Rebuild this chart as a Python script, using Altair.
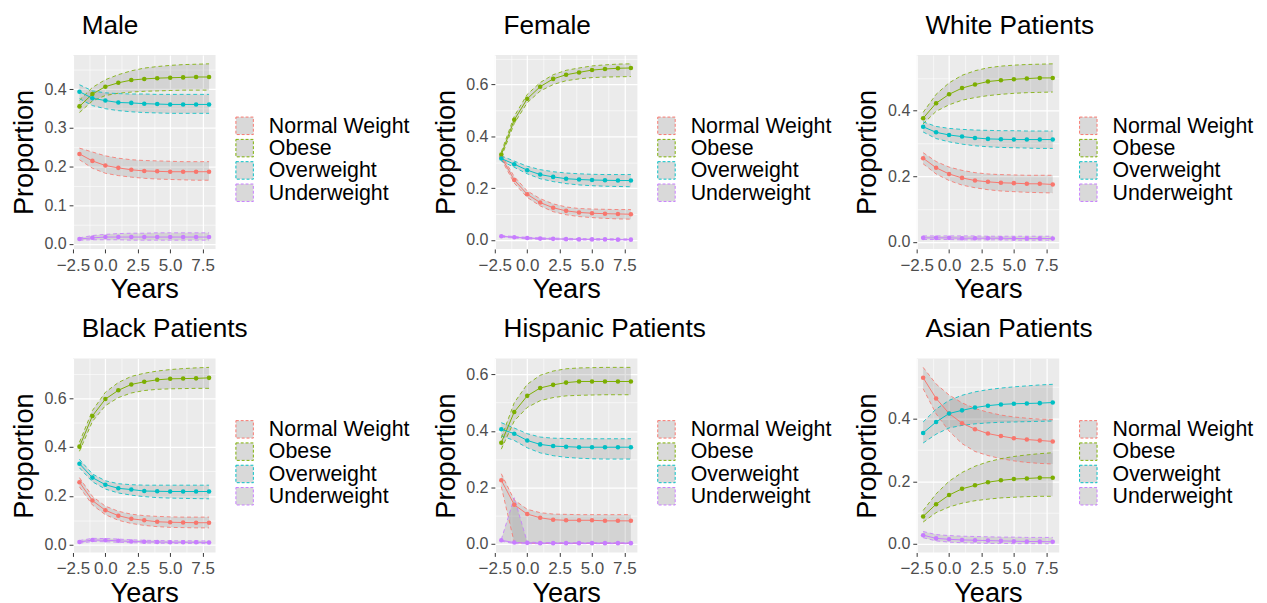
import altair as alt
import pandas as pd

FONT = "Liberation Sans"
CATS = ["Normal Weight", "Obese", "Overweight", "Underweight"]
COLORS = ["#F8766D", "#7CAE00", "#00BFC4", "#C77CFF"]
YEARS = [-2, -1, 0, 1, 2, 3, 4, 5, 6, 7, 8]

# ---- Male ----
M_NW = [0.233, 0.215, 0.203, 0.197, 0.192, 0.189, 0.188, 0.187, 0.187, 0.187, 0.187]
M_NW_LO = [0.218, 0.196, 0.183, 0.177, 0.173, 0.170, 0.168, 0.167, 0.166, 0.165, 0.165]
M_NW_HI = [0.248, 0.238, 0.228, 0.222, 0.218, 0.216, 0.215, 0.214, 0.213, 0.213, 0.213]
M_OB = [0.356, 0.388, 0.407, 0.417, 0.424, 0.427, 0.429, 0.430, 0.431, 0.432, 0.432]
M_OB_LO = [0.340, 0.370, 0.384, 0.390, 0.393, 0.395, 0.396, 0.397, 0.398, 0.398, 0.398]
M_OB_HI = [0.372, 0.405, 0.425, 0.438, 0.448, 0.455, 0.459, 0.462, 0.464, 0.465, 0.466]
M_OW = [0.394, 0.377, 0.371, 0.366, 0.365, 0.363, 0.362, 0.361, 0.361, 0.361, 0.361]
M_OW_LO = [0.376, 0.358, 0.350, 0.345, 0.342, 0.340, 0.339, 0.338, 0.338, 0.338, 0.338]
M_OW_HI = [0.412, 0.396, 0.391, 0.389, 0.388, 0.388, 0.387, 0.387, 0.387, 0.387, 0.387]
M_UW = [0.013, 0.016, 0.018, 0.018, 0.018, 0.018, 0.018, 0.018, 0.018, 0.018, 0.018]
M_UW_LO = [0.010, 0.011, 0.011, 0.011, 0.010, 0.010, 0.010, 0.010, 0.010, 0.010, 0.010]
M_UW_HI = [0.016, 0.022, 0.025, 0.027, 0.028, 0.028, 0.029, 0.029, 0.029, 0.029, 0.029]

# ---- Female ----
F_NW = [0.321, 0.232, 0.177, 0.145, 0.125, 0.113, 0.107, 0.104, 0.102, 0.101, 0.100]
F_NW_LO = [0.312, 0.220, 0.165, 0.132, 0.110, 0.098, 0.091, 0.087, 0.084, 0.082, 0.081]
F_NW_HI = [0.330, 0.245, 0.190, 0.160, 0.140, 0.128, 0.122, 0.120, 0.119, 0.118, 0.118]
F_OB = [0.330, 0.464, 0.545, 0.592, 0.622, 0.638, 0.647, 0.656, 0.660, 0.663, 0.664]
F_OB_LO = [0.320, 0.450, 0.530, 0.575, 0.600, 0.615, 0.622, 0.627, 0.629, 0.630, 0.631]
F_OB_HI = [0.340, 0.478, 0.562, 0.608, 0.638, 0.655, 0.664, 0.672, 0.676, 0.679, 0.680]
F_OW = [0.315, 0.293, 0.270, 0.253, 0.244, 0.237, 0.234, 0.232, 0.231, 0.230, 0.230]
F_OW_LO = [0.305, 0.281, 0.256, 0.237, 0.226, 0.218, 0.213, 0.210, 0.208, 0.207, 0.206]
F_OW_HI = [0.325, 0.305, 0.285, 0.272, 0.264, 0.259, 0.256, 0.254, 0.253, 0.253, 0.253]
F_UW = [0.015, 0.011, 0.008, 0.006, 0.005, 0.004, 0.003, 0.003, 0.003, 0.002, 0.002]
F_UW_LO = [0.012, 0.008, 0.005, 0.003, 0.002, 0.001, 0.001, 0.000, 0.000, 0.000, 0.000]
F_UW_HI = [0.018, 0.014, 0.011, 0.009, 0.008, 0.007, 0.006, 0.006, 0.006, 0.005, 0.005]

# ---- White ----
W_NW = [0.255, 0.226, 0.207, 0.195, 0.187, 0.183, 0.180, 0.179, 0.177, 0.177, 0.175]
W_NW_LO = [0.238, 0.207, 0.187, 0.173, 0.165, 0.159, 0.155, 0.153, 0.151, 0.150, 0.149]
W_NW_HI = [0.272, 0.245, 0.228, 0.218, 0.211, 0.207, 0.205, 0.204, 0.203, 0.203, 0.203]
W_OB = [0.377, 0.423, 0.450, 0.469, 0.480, 0.489, 0.493, 0.496, 0.498, 0.500, 0.500]
W_OB_LO = [0.360, 0.398, 0.418, 0.432, 0.440, 0.446, 0.450, 0.453, 0.455, 0.456, 0.457]
W_OB_HI = [0.395, 0.450, 0.485, 0.508, 0.522, 0.531, 0.536, 0.539, 0.541, 0.542, 0.543]
W_OW = [0.351, 0.334, 0.326, 0.321, 0.317, 0.314, 0.313, 0.312, 0.312, 0.312, 0.312]
W_OW_LO = [0.335, 0.315, 0.305, 0.298, 0.293, 0.290, 0.288, 0.287, 0.286, 0.285, 0.285]
W_OW_HI = [0.366, 0.352, 0.346, 0.343, 0.341, 0.340, 0.339, 0.339, 0.338, 0.338, 0.338]
W_UW = [0.012, 0.012, 0.012, 0.011, 0.011, 0.011, 0.011, 0.010, 0.010, 0.010, 0.010]
W_UW_LO = [0.007, 0.007, 0.007, 0.006, 0.006, 0.006, 0.006, 0.005, 0.005, 0.005, 0.005]
W_UW_HI = [0.018, 0.018, 0.018, 0.018, 0.018, 0.017, 0.017, 0.017, 0.017, 0.017, 0.017]

# ---- Black ----
B_NW = [0.256, 0.181, 0.141, 0.119, 0.106, 0.100, 0.094, 0.092, 0.091, 0.090, 0.090]
B_NW_LO = [0.237, 0.163, 0.123, 0.100, 0.087, 0.079, 0.074, 0.071, 0.070, 0.069, 0.069]
B_NW_HI = [0.275, 0.198, 0.158, 0.137, 0.125, 0.119, 0.116, 0.114, 0.113, 0.113, 0.113]
B_OB = [0.402, 0.528, 0.597, 0.633, 0.657, 0.668, 0.676, 0.680, 0.681, 0.682, 0.684]
B_OB_LO = [0.383, 0.505, 0.570, 0.603, 0.622, 0.632, 0.637, 0.639, 0.640, 0.641, 0.641]
B_OB_HI = [0.420, 0.550, 0.625, 0.665, 0.690, 0.703, 0.712, 0.718, 0.722, 0.725, 0.727]
B_OW = [0.332, 0.275, 0.246, 0.231, 0.226, 0.220, 0.219, 0.218, 0.218, 0.218, 0.218]
B_OW_LO = [0.315, 0.258, 0.228, 0.212, 0.203, 0.197, 0.193, 0.191, 0.190, 0.189, 0.188]
B_OW_HI = [0.350, 0.290, 0.262, 0.250, 0.246, 0.244, 0.244, 0.244, 0.244, 0.244, 0.244]
B_UW = [0.011, 0.019, 0.018, 0.016, 0.013, 0.012, 0.011, 0.010, 0.010, 0.010, 0.009]
B_UW_LO = [0.006, 0.013, 0.012, 0.010, 0.008, 0.007, 0.006, 0.005, 0.005, 0.005, 0.004]
B_UW_HI = [0.017, 0.026, 0.025, 0.023, 0.020, 0.018, 0.017, 0.016, 0.016, 0.016, 0.015]

# ---- Hispanic ----
H_NW = [0.225, 0.138, 0.105, 0.092, 0.085, 0.083, 0.083, 0.083, 0.081, 0.081, 0.081]
H_NW_LO = [0.202, 0.004, 0.002, 0.001, 0.001, 0.001, 0.001, 0.001, 0.001, 0.001, 0.001]
H_NW_HI = [0.248, 0.155, 0.122, 0.110, 0.105, 0.104, 0.103, 0.103, 0.103, 0.103, 0.103]
H_OB = [0.358, 0.467, 0.524, 0.552, 0.563, 0.571, 0.575, 0.575, 0.575, 0.575, 0.575]
H_OB_LO = [0.335, 0.435, 0.483, 0.507, 0.518, 0.524, 0.526, 0.527, 0.528, 0.528, 0.528]
H_OB_HI = [0.375, 0.500, 0.565, 0.597, 0.612, 0.620, 0.623, 0.624, 0.625, 0.625, 0.625]
H_OW = [0.406, 0.390, 0.366, 0.352, 0.346, 0.344, 0.342, 0.342, 0.342, 0.342, 0.342]
H_OW_LO = [0.382, 0.366, 0.340, 0.322, 0.312, 0.306, 0.303, 0.301, 0.300, 0.300, 0.300]
H_OW_HI = [0.429, 0.410, 0.390, 0.378, 0.374, 0.373, 0.372, 0.372, 0.372, 0.372, 0.372]
H_UW = [0.012, 0.004, 0.003, 0.002, 0.002, 0.002, 0.002, 0.002, 0.002, 0.002, 0.002]
H_UW_LO = [0.009, 0.000, 0.000, 0.000, 0.000, 0.000, 0.000, 0.000, 0.000, 0.000, 0.000]
H_UW_HI = [0.015, 0.163, 0.006, 0.004, 0.004, 0.003, 0.003, 0.003, 0.003, 0.003, 0.003]

# ---- Asian ----
A_NW = [0.530, 0.464, 0.416, 0.385, 0.366, 0.352, 0.344, 0.337, 0.333, 0.330, 0.327]
A_NW_LO = [0.495, 0.415, 0.360, 0.320, 0.295, 0.282, 0.272, 0.265, 0.260, 0.257, 0.255]
A_NW_HI = [0.563, 0.510, 0.475, 0.450, 0.432, 0.420, 0.411, 0.405, 0.401, 0.398, 0.397]
A_OB = [0.088, 0.127, 0.156, 0.176, 0.187, 0.197, 0.203, 0.207, 0.209, 0.211, 0.211]
A_OB_LO = [0.070, 0.100, 0.118, 0.130, 0.138, 0.143, 0.147, 0.149, 0.151, 0.152, 0.152]
A_OB_HI = [0.107, 0.160, 0.200, 0.228, 0.248, 0.262, 0.272, 0.279, 0.284, 0.288, 0.291]
A_OW = [0.354, 0.389, 0.416, 0.426, 0.435, 0.441, 0.445, 0.447, 0.448, 0.449, 0.451]
A_OW_LO = [0.322, 0.350, 0.370, 0.378, 0.383, 0.386, 0.388, 0.389, 0.390, 0.391, 0.392]
A_OW_HI = [0.389, 0.430, 0.458, 0.474, 0.485, 0.492, 0.497, 0.501, 0.504, 0.507, 0.509]
A_UW = [0.028, 0.018, 0.015, 0.013, 0.012, 0.011, 0.010, 0.009, 0.008, 0.008, 0.007]
A_UW_LO = [0.020, 0.010, 0.006, 0.004, 0.003, 0.002, 0.002, 0.001, 0.001, 0.001, 0.001]
A_UW_HI = [0.040, 0.030, 0.027, 0.025, 0.024, 0.023, 0.022, 0.022, 0.021, 0.021, 0.021]

PANELS = [
    ("Male", 0.1, [(M_NW, M_NW_LO, M_NW_HI), (M_OB, M_OB_LO, M_OB_HI), (M_OW, M_OW_LO, M_OW_HI), (M_UW, M_UW_LO, M_UW_HI)]),
    ("Female", 0.2, [(F_NW, F_NW_LO, F_NW_HI), (F_OB, F_OB_LO, F_OB_HI), (F_OW, F_OW_LO, F_OW_HI), (F_UW, F_UW_LO, F_UW_HI)]),
    ("White Patients", 0.2, [(W_NW, W_NW_LO, W_NW_HI), (W_OB, W_OB_LO, W_OB_HI), (W_OW, W_OW_LO, W_OW_HI), (W_UW, W_UW_LO, W_UW_HI)]),
    ("Black Patients", 0.2, [(B_NW, B_NW_LO, B_NW_HI), (B_OB, B_OB_LO, B_OB_HI), (B_OW, B_OW_LO, B_OW_HI), (B_UW, B_UW_LO, B_UW_HI)]),
    ("Hispanic Patients", 0.2, [(H_NW, H_NW_LO, H_NW_HI), (H_OB, H_OB_LO, H_OB_HI), (H_OW, H_OW_LO, H_OW_HI), (H_UW, H_UW_LO, H_UW_HI)]),
    ("Asian Patients", 0.2, [(A_NW, A_NW_LO, A_NW_HI), (A_OB, A_OB_LO, A_OB_HI), (A_OW, A_OW_LO, A_OW_HI), (A_UW, A_UW_LO, A_UW_HI)]),
]

PW, PH = 147, 200
X_MAJOR = 2.5


def minor_test(step):
    return f"abs(datum.value / {step} - round(datum.value / {step})) > 0.01"


def tick_values(lo, hi, step):
    half = step / 2.0
    vals = []
    k = int(lo // half) - 1
    while k * half <= hi + 1e-9:
        v = round(k * half, 6)
        if lo - 1e-9 <= v <= hi + 1e-9:
            vals.append(v)
        k += 1
    return vals


def make_axis(values, step, title_pad, label_pad, label_size):
    t = minor_test(step)
    return alt.Axis(
        values=values,
        labelExpr=f"({t}) ? '' : format(datum.value, '.1f')",
        labelOverlap=False,
        labelFlush=False,
        labelFontSize={"condition": {"test": t, "value": 0}, "value": label_size},
        gridWidth={"condition": {"test": t, "value": 0.6}, "value": 1.3},
        tickOpacity={"condition": {"test": t, "value": 0}, "value": 1},
        titlePadding=title_pad,
        labelPadding=label_pad,
    )


scale_color = alt.Scale(domain=CATS, range=COLORS)
scale_key_fill = alt.Scale(domain=CATS, range=["#D9D9D9"] * len(CATS))
legend = alt.Legend(
    orient="none", legendX=166, legendY=62, title=None,
    symbolType="square", symbolSize=324, symbolOpacity=1,
    symbolStrokeWidth=1, symbolDash=[3, 2],
    labelFontSize=22, labelFont=FONT, labelColor="black",
    rowPadding=1, labelOffset=14, padding=0,
)


def panel(title, ystep, series):
    rows = []
    for cat, (m, lo, hi) in zip(CATS, series):
        for i, yr in enumerate(YEARS):
            rows.append({"Years": yr, "Category": cat, "Series": cat,
                         "Proportion": m[i], "Lower": lo[i], "Upper": hi[i]})
    df = pd.DataFrame(rows)
    xlo, xhi = min(YEARS), max(YEARS)
    xpad = 0.05 * (xhi - xlo)
    xdom = [xlo - xpad, xhi + xpad]
    ylo, yhi = df["Lower"].min(), df["Upper"].max()
    ypad = 0.05 * (yhi - ylo)
    ydom = [ylo - ypad, yhi + ypad]

    xenc = alt.X("Years:Q", title="Years",
                 scale=alt.Scale(domain=xdom, nice=False, zero=False),
                 axis=make_axis(tick_values(xdom[0], xdom[1], X_MAJOR), X_MAJOR, 3, 4, 17.5))
    yscale = alt.Scale(domain=ydom, nice=False, zero=False)
    yaxis = make_axis(tick_values(ydom[0], ydom[1], ystep), ystep, 6, 3, 16.5)

    def Y(field):
        return alt.Y(f"{field}:Q", title="Proportion", scale=yscale, axis=yaxis)

    stroke_nl = alt.Stroke("Category:N", scale=scale_color, legend=None)
    base = alt.Chart(df).encode(x=xenc)
    # legend-key layer: no rows pass the filter, only the legend is drawn from it
    key = base.mark_square(strokeDash=[3, 2], strokeWidth=1, size=324, opacity=1).encode(
        y=Y("Proportion"),
        stroke=alt.Stroke("Category:N", scale=scale_color, legend=legend, sort=CATS),
        fill=alt.Fill("Category:N", scale=scale_key_fill, legend=legend, sort=CATS),
    ).transform_filter(alt.datum.Years < -100)
    area = base.mark_area(fill="#7F7F7F", opacity=0.22).encode(
        y=Y("Lower"), y2=alt.Y2("Upper:Q", title="Proportion"), detail="Series:N")
    lo_line = base.mark_line(strokeDash=[4, 3], strokeWidth=1, opacity=0.85).encode(y=Y("Lower"), stroke=stroke_nl)
    hi_line = base.mark_line(strokeDash=[4, 3], strokeWidth=1, opacity=0.85).encode(y=Y("Upper"), stroke=stroke_nl)
    line = base.mark_line(strokeWidth=1).encode(y=Y("Proportion"), stroke=stroke_nl)
    pts = base.mark_circle(size=22, opacity=1).encode(
        y=Y("Proportion"), color=alt.Color("Series:N", scale=scale_color, legend=None))
    return alt.layer(key, area, lo_line, hi_line, line, pts).properties(
        width=PW, height=PH,
        title=alt.TitleParams(title, anchor="start", frame="group", fontSize=27, font=FONT,
                              fontWeight="normal", color="black", dx=9, offset=16),
    )


charts = [panel(t, s, ser) for t, s, ser in PANELS]

chart = alt.concat(*charts, columns=3, spacing={"row": 12, "column": 23}).resolve_scale(
    x="independent", y="independent", stroke="independent", fill="independent",
    color="independent"
).resolve_legend(stroke="independent", fill="independent", color="independent").configure_view(
    fill="#EBEBEB", stroke=None
).configure_axis(
    gridColor="white", domain=False, tickColor="#333333", tickSize=4, tickWidth=1,
    labelFont=FONT, labelColor="#4D4D4D",
    titleFont=FONT, titleFontSize=28, titleColor="black", titleFontWeight="normal",
).properties(padding={"left": 3, "top": -5, "right": 5, "bottom": 0}, background="white")

chart.save("out.html", embed_options={"renderer": "svg", "actions": False})
